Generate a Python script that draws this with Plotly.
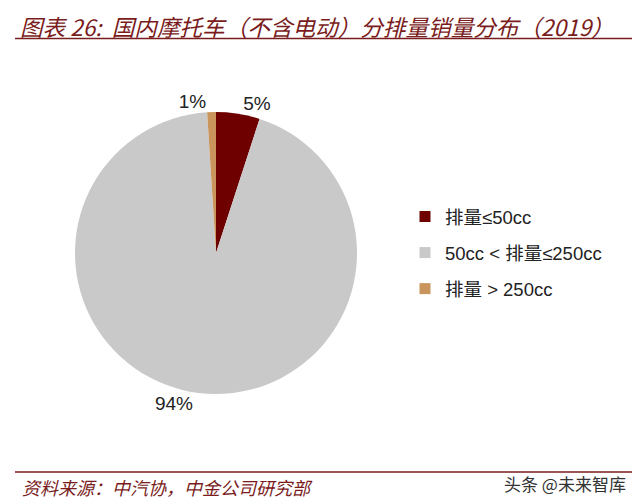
import plotly.graph_objects as go

categories = ["排量≤50cc", "50cc < 排量≤250cc", "排量 > 250cc"]
shares = [5, 94, 1]
pct_labels = ["5%", "94%", "1%"]
colors = ["#6E0000", "#C9C9C9", "#C9955C"]

title_text = "图表 26:  国内摩托车（不含电动）分排量销量分布（2019）"
source_text = "资料来源：中汽协，中金公司研究部"
watermark_text = "头条 @未来智库"

RED = "#7A1C1C"
CJK = "Noto Sans CJK SC"

# page body has an 8px default margin; figure is sized to fit the window
OFF = 8
W, H = 640 - OFF, 503 - OFF


def px(x):
    return (x - OFF) / W


def py(y):
    return 1 - (y - OFF) / H


cx, cy, r = 216, 253, 141

fig = go.Figure()
fig.add_trace(go.Pie(
    labels=categories,
    values=shares,
    text=pct_labels,
    textinfo="text",
    textposition="outside",
    sort=False,
    direction="clockwise",
    rotation=0,
    marker=dict(colors=colors, line=dict(width=0)),
    textfont=dict(family="Liberation Sans, Arial", size=19, color="#222222"),
    showlegend=False,
    domain=dict(x=[px(cx - r), px(cx + r)], y=[py(cy + r), py(cy - r)]),
    hoverinfo="skip",
))

for i, (cat, col) in enumerate(zip(categories, colors)):
    fig.add_trace(go.Scatter(
        x=[None], y=[None], mode="markers", name=cat,
        marker=dict(symbol="square", size=11, color=col),
        legendgroup=f"g{i}", showlegend=True,
    ))

fig.update_layout(
    width=W, height=H,
    margin=dict(l=0, r=0, t=0, b=0),
    paper_bgcolor="white", plot_bgcolor="white",
    xaxis=dict(visible=False), yaxis=dict(visible=False),
    legend=dict(
        x=px(405), y=py(198), xanchor="left", yanchor="top",
        font=dict(family="Liberation Sans, " + CJK, size=18.5, color="#222222"),
        tracegroupgap=9, bgcolor="rgba(0,0,0,0)",
    ),
    annotations=[
        dict(text=title_text, x=px(18), y=1.0, xref="paper", yref="paper",
             xanchor="left", yanchor="top", showarrow=False,
             font=dict(family=CJK, size=22.6, color=RED, style="italic")),
        dict(text=source_text, x=px(20), y=py(487), xref="paper", yref="paper",
             xanchor="left", yanchor="middle", showarrow=False,
             font=dict(family=CJK, size=18, color=RED, style="italic")),
        dict(text=watermark_text, x=px(628), y=py(483), xref="paper", yref="paper",
             xanchor="right", yanchor="middle", showarrow=False,
             font=dict(family=CJK, size=17, color="#333333")),
    ],
    shapes=[
        dict(type="line", xref="paper", yref="paper", x0=px(15), x1=px(635),
             y0=py(38.5), y1=py(38.5), line=dict(color=RED, width=1.6)),
        dict(type="line", xref="paper", yref="paper", x0=px(15), x1=px(635),
             y0=py(472), y1=py(472), line=dict(color=RED, width=1.6)),
    ],
)

fig.write_html("out.html")
